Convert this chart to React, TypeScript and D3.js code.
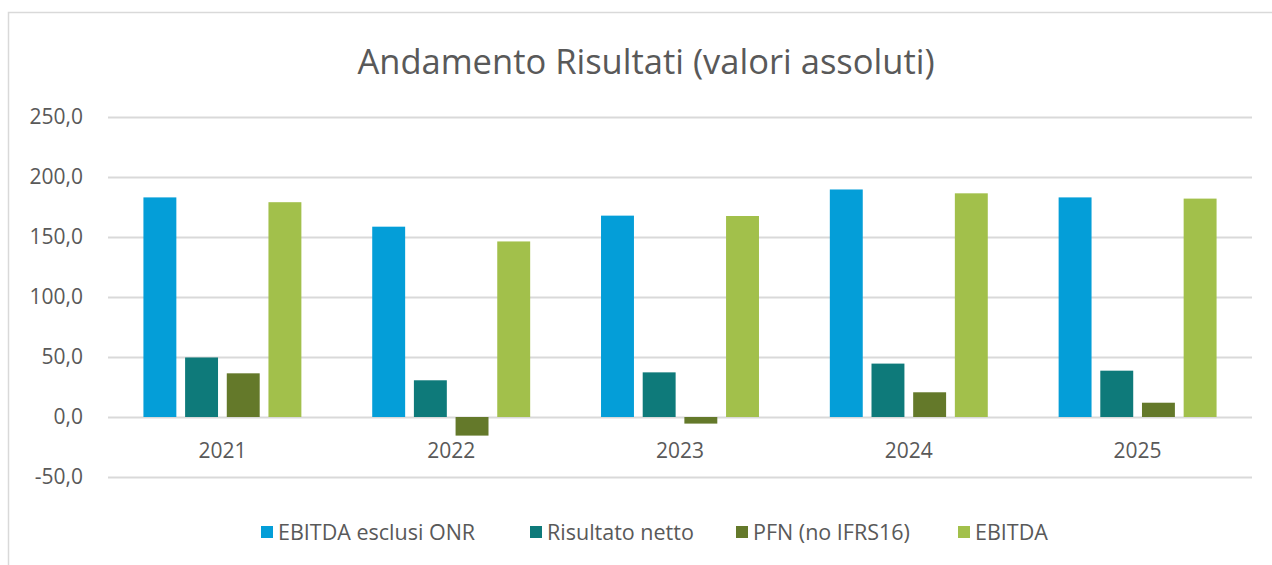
import React, { useRef, useEffect } from "react";
import * as d3 from "d3";

// chart data
const years = ["2021", "2022", "2023", "2024", "2025"];
const seriesNames = ["EBITDA esclusi ONR", "Risultato netto", "PFN (no IFRS16)", "EBITDA"];
const ebitdaEsclusiOnr = [183.0, 158.6, 167.8, 189.6, 183.0];
const risultatoNetto = [49.6, 30.6, 37.2, 44.5, 38.6];
const pfnNoIfrs16 = [36.4, -15.5, -5.5, 20.6, 11.9];
const ebitda = [179.0, 146.3, 167.5, 186.4, 182.0];
const yTicks = [-50, 0, 50, 100, 150, 200, 250];
const colors = ["#049ED8", "#0E7A7A", "#64792A", "#A2C04B"];

const W = 1272;
const H = 565;

const App = () => {
  const chartRef = useRef<SVGSVGElement>(null);

  useEffect(() => {
    document.body.style.margin = "0";
    if (!chartRef.current) return;

    const svg = d3.select(chartRef.current);
    svg.selectAll("*").remove();

    const font = "'Open Sans', sans-serif";
    const textColor = "#595959";
    const x0 = 108;
    const x1 = 1252;

    const seriesValues = [ebitdaEsclusiOnr, risultatoNetto, pfnNoIfrs16, ebitda];
    const rows = years.map((year, i) => ({
      year,
      values: seriesNames.map((name, s) => ({ name, s, value: seriesValues[s][i] })),
    }));

    // chart area border
    svg.append("rect")
      .attr("x", 8.5)
      .attr("y", 12.5)
      .attr("width", W + 20)
      .attr("height", H + 20)
      .attr("fill", "white")
      .attr("stroke", "#D9D9D9")
      .attr("stroke-width", 1.5);

    svg.append("text")
      .attr("x", 646)
      .attr("y", 74)
      .attr("text-anchor", "middle")
      .style("font-family", font)
      .style("font-size", "34.5px")
      .style("fill", textColor)
      .text("Andamento Risultati (valori assoluti)");

    const yScale = d3.scaleLinear().domain([-50, 250]).range([477, 117]);

    const xScale = d3.scaleBand().domain(years).range([x0, x1]);
    const xInner = d3.scaleBand()
      .domain(seriesNames)
      .range([0, xScale.bandwidth()])
      .paddingInner(0.21)
      .paddingOuter(0.85);

    // gridlines
    svg.append("g")
      .attr("transform", `translate(${x0},0)`)
      .call(d3.axisLeft(yScale).tickValues(yTicks).tickSize(-(x1 - x0)).tickFormat(() => ""))
      .call((g) => g.select(".domain").remove())
      .call((g) => g.selectAll("line").attr("stroke", "#D9D9D9").attr("stroke-width", 2));

    // y labels
    svg.selectAll(".y-label")
      .data(yTicks)
      .enter().append("text")
      .attr("class", "y-label")
      .attr("x", 83)
      .attr("y", (d) => yScale(d))
      .attr("dy", "0.35em")
      .attr("text-anchor", "end")
      .style("font-family", font)
      .style("font-size", "21px")
      .style("fill", textColor)
      .text((d) => d3.format(".1f")(d).replace(".", ",").replace("−", "-"));

    const groups = svg.selectAll(".bar-group")
      .data(rows)
      .enter().append("g")
      .attr("class", "bar-group")
      .attr("transform", (d) => `translate(${xScale(d.year)},0)`);

    groups.selectAll("rect")
      .data((d) => d.values)
      .enter().append("rect")
      .attr("x", (d) => xInner(d.name)!)
      .attr("width", xInner.bandwidth())
      .attr("y", (d) => yScale(Math.max(0, d.value)))
      .attr("height", (d) => Math.abs(yScale(d.value) - yScale(0)))
      .attr("fill", (d) => colors[d.s]);

    // category labels
    svg.selectAll(".x-label")
      .data(years)
      .enter().append("text")
      .attr("class", "x-label")
      .attr("x", (d) => xScale(d)! + xScale.bandwidth() / 2)
      .attr("y", yScale(0) + 34)
      .attr("dy", "0.35em")
      .attr("text-anchor", "middle")
      .style("font-family", font)
      .style("font-size", "21px")
      .style("fill", textColor)
      .text((d) => d);

    // legend
    const legendX = [261, 530, 736, 958];
    const legend = svg.selectAll(".legend")
      .data(seriesNames)
      .enter().append("g")
      .attr("class", "legend")
      .attr("transform", (d, i) => `translate(${legendX[i]},532)`);

    legend.append("rect")
      .attr("x", 0)
      .attr("y", -6)
      .attr("width", 12)
      .attr("height", 12)
      .attr("fill", (d, i) => colors[i]);

    legend.append("text")
      .attr("x", 17)
      .attr("y", 0)
      .attr("dy", "0.35em")
      .style("font-family", font)
      .style("font-size", "21.5px")
      .style("fill", textColor)
      .text((d) => d);
  }, []);

  return (
    <div style={{ width: W, height: H, overflow: "hidden" }}>
      <svg ref={chartRef} width={W} height={H} style={{ display: "block" }}></svg>
    </div>
  );
};

export default App;
